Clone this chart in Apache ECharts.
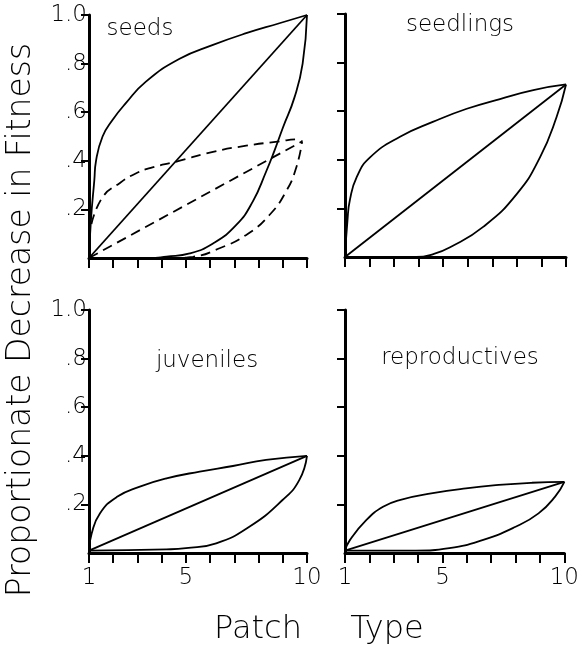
<!DOCTYPE html>
<html>
<head>
<meta charset="utf-8">
<script src="https://cdn.jsdelivr.net/npm/echarts@6/dist/echarts.min.js"></script>
<style>
  html, body { margin: 0; padding: 0; background: #fff; }
  #chart { width: 582px; height: 649px; }
</style>
</head>
<body>
<div id="chart"></div>
<script>
// tick labels
const yTicks = [0.2, 0.4, 0.6, 0.8, 1.0];
const yTickLabels = ['.2', '.4', '.6', '.8', '1.0'];
const xTicks = [1, 5, 10];
const panelNames = ['seeds', 'seedlings', 'juveniles', 'reproductives'];

// seeds, [patch type, decrease]
const seedsHigh = [[1, 0], [1.08, 0.156], [1.22, 0.32], [1.29, 0.40], [1.56, 0.5], [1.97, 0.568], [2.52, 0.637], [3.35, 0.726], [4.74, 0.82], [6.12, 0.877], [7.49, 0.925], [8.86, 0.966], [10, 1]];
const seedsMid = [[1, 0], [10, 1]];
const seedsLow = [[1, 0], [3.5, 0], [4.2, 0.006], [5.16, 0.019], [6.12, 0.06], [7.08, 0.136], [7.76, 0.232], [8.31, 0.355], [8.65, 0.44], [9.0, 0.535], [9.48, 0.66], [9.82, 0.8], [10, 1]];
const seedsDashHigh = [[1.1, 0.14], [1.56, 0.25], [2.25, 0.307], [2.93, 0.348], [3.62, 0.373], [4.58, 0.396], [6.12, 0.437], [7.49, 0.462], [8.86, 0.48], [9.6, 0.488], [9.8, 0.48]];
const seedsDashMid = [[1, 0], [9.8, 0.48]];
const seedsDashLow = [[1, 0], [4.5, 0], [5.29, 0.005], [6.39, 0.04], [7.49, 0.095], [8.45, 0.177], [9.13, 0.273], [9.55, 0.37], [9.8, 0.48]];

// seedlings
const seedlingsHigh = [[1, 0], [1.1, 0.15], [1.2, 0.235], [1.48, 0.33], [2.02, 0.41], [3.24, 0.495], [4.6, 0.557], [5.96, 0.61], [7.31, 0.65], [8.67, 0.687], [10, 0.71]];
const seedlingsMid = [[1, 0], [10, 0.71]];
const seedlingsLow = [[1, 0], [3.9, 0], [4.6, 0.012], [5.28, 0.04], [6.64, 0.125], [8, 0.26], [8.94, 0.41], [9.62, 0.577], [10, 0.71]];

// juveniles
const juvenilesHigh = [[1, 0.01], [1.11, 0.08], [1.45, 0.163], [2.14, 0.23], [3.1, 0.273], [4.2, 0.307], [5.57, 0.335], [6.94, 0.358], [8.31, 0.383], [10, 0.4]];
const juvenilesMid = [[1, 0.01], [10, 0.4]];
const juvenilesLow = [[1, 0.01], [4.2, 0.015], [5, 0.02], [6.25, 0.04], [7.62, 0.108], [8.99, 0.218], [9.68, 0.3], [10, 0.4]];

// reproductives
const reproHigh = [[1, 0.01], [1.2, 0.053], [1.88, 0.136], [2.56, 0.19], [3.24, 0.218], [4.6, 0.246], [5.96, 0.266], [7.31, 0.28], [8.67, 0.289], [10, 0.293]];
const reproMid = [[1, 0.01], [10, 0.293]];
const reproLow = [[1, 0.01], [3.9, 0.01], [5.28, 0.02], [6.64, 0.053], [8, 0.108], [8.94, 0.163], [9.62, 0.232], [10, 0.293]];

const FONT = 'DejaVu Sans';
const grids = [
  {left: 89, top: 15, width: 218, height: 243},
  {left: 345, top: 14, width: 221, height: 243},
  {left: 89, top: 310, width: 218, height: 243},
  {left: 345, top: 310, width: 221, height: 243}
];
const titlePos = [[140, 29], [460, 25], [207, 361], [460, 358]];

const xAxes = grids.map((g, i) => ({
  type: 'value',
  gridIndex: i,
  min: 1,
  max: 10,
  interval: 1,
  axisLine: {show: true, lineStyle: {color: '#000', width: 3}},
  axisTick: {show: true, length: 10, lineStyle: {color: '#000', width: 2}},
  axisLabel: {
    show: i >= 2,
    customValues: xTicks,
    color: '#000',
    fontFamily: FONT,
    fontWeight: 200,
    fontSize: 23,
    margin: 14
  },
  splitLine: {show: false}
}));

const yAxes = grids.map((g, i) => ({
  type: 'value',
  gridIndex: i,
  min: 0,
  max: 1,
  interval: 0.2,
  axisLine: {show: true, lineStyle: {color: '#000', width: 3}},
  axisTick: {show: true, length: 8, customValues: yTicks, lineStyle: {color: '#000', width: 2}},
  axisLabel: {
    show: i % 2 === 0,
    customValues: yTicks,
    formatter: v => yTickLabels[yTicks.findIndex(t => Math.abs(t - v) < 1e-6)] || '',
    color: '#000',
    fontFamily: FONT,
    fontWeight: 200,
    fontSize: 23,
    margin: 2
  },
  splitLine: {show: false}
}));

const curve = (data, idx, dashed) => ({
  type: 'line',
  xAxisIndex: idx,
  yAxisIndex: idx,
  data: data,
  showSymbol: false,
  smooth: data.length > 2 ? 0.5 : false,
  silent: true,
  lineStyle: {color: '#000', width: 1.8, type: dashed ? [10, 6] : 'solid'}
});

const series = [
  curve(seedsHigh, 0), curve(seedsMid, 0), curve(seedsLow, 0),
  curve(seedsDashHigh, 0, true), curve(seedsDashMid, 0, true), curve(seedsDashLow, 0, true),
  curve(seedlingsHigh, 1), curve(seedlingsMid, 1), curve(seedlingsLow, 1),
  curve(juvenilesHigh, 2), curve(juvenilesMid, 2), curve(juvenilesLow, 2),
  curve(reproHigh, 3), curve(reproMid, 3), curve(reproLow, 3)
];

const textStyle = (text, size) => ({
  text: text,
  fill: '#000',
  fontFamily: FONT,
  fontWeight: 200,
  fontSize: size,
  align: 'center',
  verticalAlign: 'middle'
});

const graphic = panelNames.map((name, i) => ({
  type: 'text',
  x: titlePos[i][0],
  y: titlePos[i][1],
  style: textStyle(name, 23)
})).concat([
  {type: 'text', x: 21, y: 320, rotation: Math.PI / 2, style: textStyle('Proportionate Decrease in Fitness', 33)},
  {type: 'text', x: 258, y: 630, style: textStyle('Patch', 32)},
  {type: 'text', x: 387, y: 630, style: textStyle('Type', 32)}
]);

const chart = echarts.init(document.getElementById('chart'));
chart.setOption({
  animation: false,
  backgroundColor: '#fff',
  grid: grids,
  xAxis: xAxes,
  yAxis: yAxes,
  series: series,
  graphic: graphic
});
</script>
</body>
</html>
